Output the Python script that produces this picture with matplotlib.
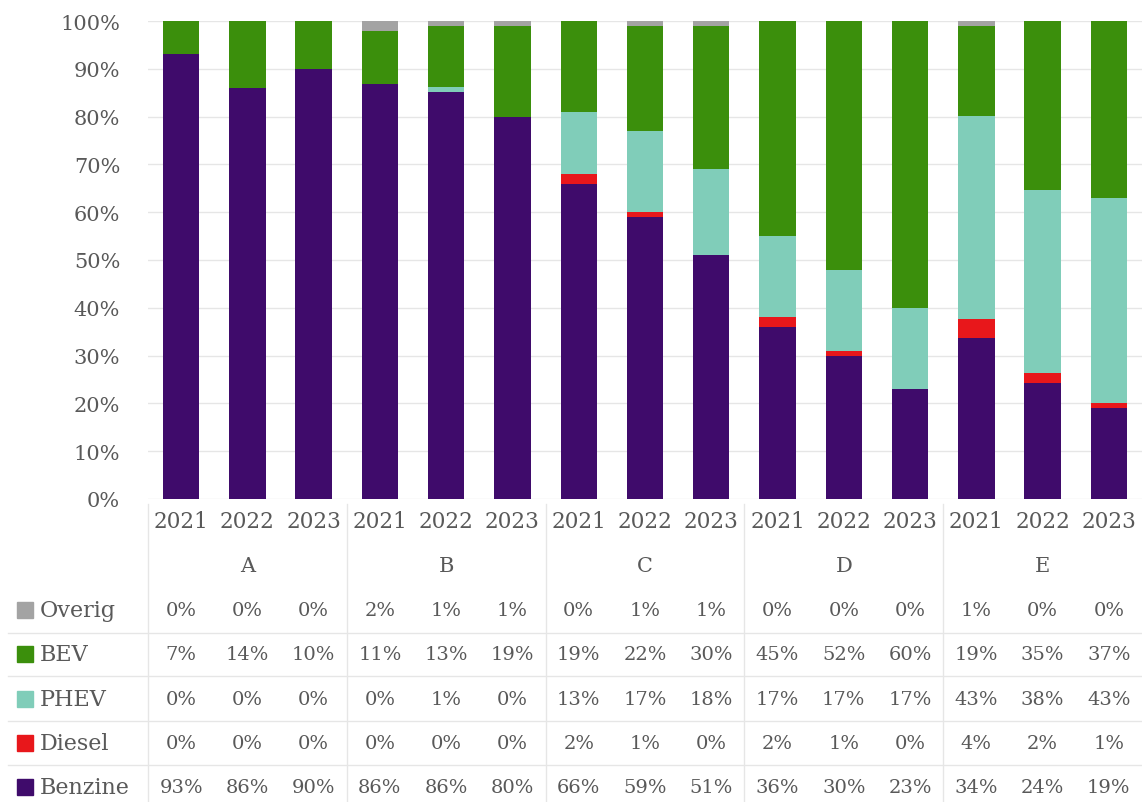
import matplotlib
matplotlib.use("Agg")
import matplotlib.pyplot as plt
import matplotlib.transforms as mtransforms
from matplotlib.patches import Rectangle
import numpy as np

groups = ["A", "B", "C", "D", "E"]
years = ["2021", "2022", "2023"]

# shares per bar (A 2021 .. E 2023), in %
overig  = [0, 0, 0, 2, 1, 1, 0, 1, 1, 0, 0, 0, 1, 0, 0]
bev     = [7, 14, 10, 11, 13, 19, 19, 22, 30, 45, 52, 60, 19, 35, 37]
phev    = [0, 0, 0, 0, 1, 0, 13, 17, 18, 17, 17, 17, 43, 38, 43]
diesel  = [0, 0, 0, 0, 0, 0, 2, 1, 0, 2, 1, 0, 4, 2, 1]
benzine = [93, 86, 90, 86, 86, 80, 66, 59, 51, 36, 30, 23, 34, 24, 19]

series = [("Benzine", benzine, "#3f0b6b"),
          ("Diesel", diesel, "#e8171b"),
          ("PHEV", phev, "#80cdb9"),
          ("BEV", bev, "#3b8f0c"),
          ("Overig", overig, "#a3a3a3")]

W, H = 1142, 803
txt = "#595959"
grid = "#e6e6e6"
plt.rcParams["font.family"] = ["DejaVu Serif"]

fig = plt.figure(figsize=(W / 100, H / 100), dpi=100)
ax = fig.add_axes([148 / W, 1 - 500 / H, (1142 - 148) / W, (500 - 22) / H])

x = np.arange(len(benzine))
# 100% stacked: scale each bar so the rounded shares fill the column
total = np.sum([np.array(v, dtype=float) for _, v, _ in series], axis=0)
bottom = np.zeros(len(x))
for name, vals, col in series:
    v = np.array(vals, dtype=float) / total * 100
    ax.bar(x, v, 0.55, bottom=bottom, color=col, zorder=2)
    bottom += v

ax.set_xlim(-0.5, len(x) - 0.5)
ax.set_ylim(0, 100)
ax.set_yticks(range(0, 101, 10))
ax.set_yticklabels([f"{t}%" for t in range(0, 101, 10)], color=txt, fontsize=15)
ax.tick_params(axis="y", length=0, pad=20)
ax.set_xticks([])
ax.grid(axis="y", color=grid, lw=1, zorder=0)
for s in ax.spines.values():
    s.set_visible(False)

# data table below the chart
tr = mtransforms.blended_transform_factory(ax.transData, fig.transFigure)
def fy(px):
    return 1 - px / H

for i in x:
    fig.text(i, fy(522), years[i % 3], transform=tr, ha="center", va="center",
             color=txt, fontsize=15.5)
for g, name in enumerate(groups):
    fig.text(g * 3 + 1, fy(567), name, transform=tr, ha="center", va="center",
             color=txt, fontsize=15)

rows = [("Overig", overig, "#a3a3a3", 611),
        ("BEV", bev, "#3b8f0c", 655),
        ("PHEV", phev, "#80cdb9", 700),
        ("Diesel", diesel, "#e8171b", 744),
        ("Benzine", benzine, "#3f0b6b", 788)]
for name, vals, col, ypx in rows:
    fig.patches.append(Rectangle((17 / W, fy(ypx) - 8 / H), 16 / W, 16 / H,
                                 transform=fig.transFigure, color=col))
    fig.text(40 / W, fy(ypx), name, ha="left", va="center", color=txt, fontsize=16)
    for i, v in enumerate(vals):
        fig.text(i, fy(ypx), f"{v}%", transform=tr, ha="center", va="center",
                 color=txt, fontsize=14)

# faint table lines
for ypx in [634, 677, 722, 766]:
    fig.add_artist(plt.Line2D([8 / W, 1], [fy(ypx), fy(ypx)], color=grid, lw=1,
                              transform=fig.transFigure))
for g in range(len(groups)):
    fig.add_artist(plt.Line2D([g * 3 - 0.5, g * 3 - 0.5], [fy(505), 0], color=grid,
                              lw=1, transform=tr))

fig.savefig("out.png", dpi=100, facecolor="white")
